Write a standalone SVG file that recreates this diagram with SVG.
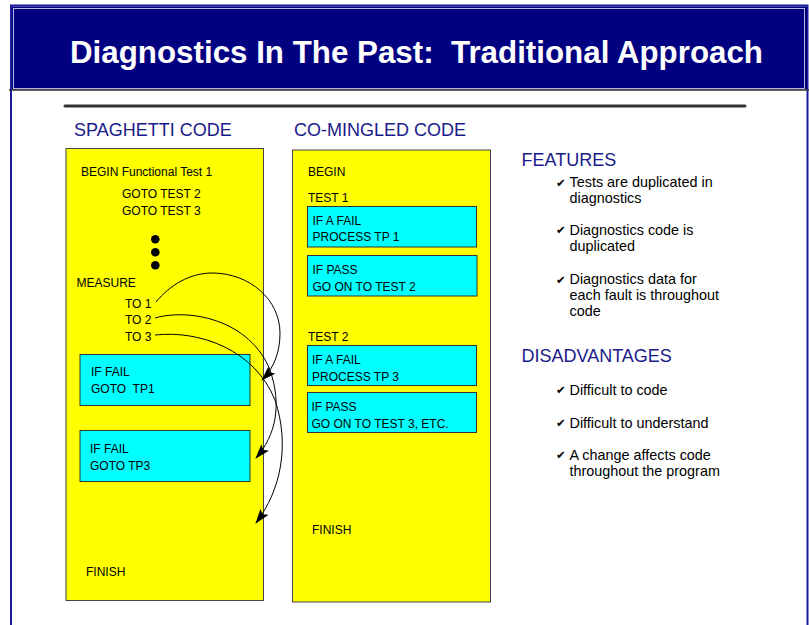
<svg xmlns="http://www.w3.org/2000/svg" width="809" height="625" viewBox="0 0 809 625">
<style>
.t{font-family:"Liberation Sans",Arial,sans-serif;font-size:12px;fill:#000}
.h{font-family:"Liberation Sans",Arial,sans-serif;font-size:18px;fill:#1a1a8a}
.b{font-family:"Liberation Sans",Arial,sans-serif;font-size:14.4px;fill:#000}
.ck{font-family:"DejaVu Sans",sans-serif;font-size:11.5px;fill:#000}
.yel{fill:#ffff00;stroke:#444;stroke-width:1}
.cy{fill:#00ffff;stroke:#333;stroke-width:1}
.arc{fill:none;stroke:#000;stroke-width:1;marker-end:url(#ah)}
</style>
<defs>
<marker id="ah" viewBox="0 0 15 10" refX="14" refY="5" markerWidth="15" markerHeight="10" markerUnits="userSpaceOnUse" orient="auto">
<path d="M0,0 L15,5 L0,10 L3,5 Z" fill="#000"/>
</marker>
</defs>
<rect x="0" y="0" width="809" height="625" fill="#fff"/>
<g id="frame">
<rect x="11" y="5.5" width="796.5" height="640" fill="none" stroke="#1a1a9a" stroke-width="2"/>
<rect x="12" y="6.5" width="795" height="83" fill="#000080"/>
<rect x="13.5" y="8.5" width="791" height="80" fill="none" stroke="#b8b8dc" stroke-width="1"/>
<line x1="9" y1="90" x2="809" y2="90" stroke="#333" stroke-width="1.5"/>
<text x="70" y="63" font-family="'Liberation Sans',Arial,sans-serif" font-size="32" font-weight="bold" fill="#fff" textLength="693" lengthAdjust="spacingAndGlyphs" style="white-space:pre">Diagnostics In The Past:  Traditional Approach</text>
<line x1="65" y1="106" x2="745" y2="106" stroke="#333" stroke-width="3" stroke-linecap="round"/>
</g>
<g id="spaghetti">
<text class="h" x="74" y="136">SPAGHETTI CODE</text>
<rect class="yel" x="66" y="148.5" width="197.5" height="452"/>
<text class="t" x="81" y="176">BEGIN Functional Test 1</text>
<text class="t" x="122" y="198">GOTO TEST 2</text>
<text class="t" x="122" y="215">GOTO TEST 3</text>
<circle cx="155.3" cy="239.3" r="4.3" fill="#000"/>
<circle cx="155.3" cy="252.3" r="4.3" fill="#000"/>
<circle cx="155.3" cy="265.3" r="4.3" fill="#000"/>
<text class="t" x="76.5" y="287">MEASURE</text>
<text class="t" x="125" y="307.5">TO 1</text>
<text class="t" x="125" y="324">TO 2</text>
<text class="t" x="125" y="340.5">TO 3</text>
<text class="t" x="86" y="576">FINISH</text>
</g>
<g id="fail1">
<rect class="cy" x="80" y="354.5" width="170" height="51"/>
<text class="t" x="91" y="376">IF FAIL</text>
<text class="t" x="91" y="393" style="white-space:pre">GOTO  TP1</text>
</g>
<g id="fail3">
<rect class="cy" x="80" y="430.5" width="170" height="51"/>
<text class="t" x="90" y="453">IF FAIL</text>
<text class="t" x="90" y="470">GOTO TP3</text>
</g>
<g id="comingled">
<text class="h" x="294" y="136">CO-MINGLED CODE</text>
<rect class="yel" x="292.5" y="150" width="198" height="452"/>
<text class="t" x="308" y="176">BEGIN</text>
<text class="t" x="308" y="202">TEST 1</text>
<text class="t" x="308" y="341">TEST 2</text>
<text class="t" x="312" y="534">FINISH</text>
</g>
<g id="t1fail">
<rect class="cy" x="307.5" y="206.5" width="169" height="40.5"/>
<text class="t" x="312.5" y="224.5">IF A FAIL</text>
<text class="t" x="312.5" y="241">PROCESS TP 1</text>
</g>
<g id="t1pass">
<rect class="cy" x="307.5" y="255.5" width="169.5" height="40.5"/>
<text class="t" x="312.5" y="273.5">IF PASS</text>
<text class="t" x="312.5" y="290.5">GO ON TO TEST 2</text>
</g>
<g id="t2fail">
<rect class="cy" x="307.5" y="345.5" width="169" height="40"/>
<text class="t" x="312" y="364">IF A FAIL</text>
<text class="t" x="312" y="381">PROCESS TP 3</text>
</g>
<g id="t2pass">
<rect class="cy" x="307.5" y="392.5" width="169" height="40"/>
<text class="t" x="311.5" y="411">IF PASS</text>
<text class="t" x="311.5" y="427.5">GO ON TO TEST 3, ETC.</text>
</g>
<g id="connectors">
<path class="arc" d="M156,302 C170,285 190,273 212,273 C250,273 280,300 280,333 C280,352 274,368 262,380"/>
<path class="arc" d="M155,318 C190,308 250,320 270,370 C282,405 276,435 256,458"/>
<path class="arc" d="M155,335 C200,330 255,350 275,400 C290,445 281,490 256,523"/>
</g>
<g id="features">
<text class="h" x="521.5" y="166">FEATURES</text>
<text class="ck" x="556" y="186.5">✔</text>
<text class="b" x="569.5" y="187">Tests are duplicated in</text>
<text class="b" x="569.5" y="203">diagnostics</text>
<text class="ck" x="556" y="234">✔</text>
<text class="b" x="569.5" y="234.5">Diagnostics code is</text>
<text class="b" x="569.5" y="251">duplicated</text>
<text class="ck" x="556" y="283.5">✔</text>
<text class="b" x="569.5" y="284">Diagnostics data for</text>
<text class="b" x="569.5" y="300">each fault is throughout</text>
<text class="b" x="569.5" y="316">code</text>
</g>
<g id="disadvantages">
<text class="h" x="521.5" y="362">DISADVANTAGES</text>
<text class="ck" x="556" y="394">✔</text>
<text class="b" x="569.5" y="394.5">Difficult to code</text>
<text class="ck" x="556" y="427">✔</text>
<text class="b" x="569.5" y="427.5">Difficult to understand</text>
<text class="ck" x="556" y="459">✔</text>
<text class="b" x="569.5" y="459.5">A change affects code</text>
<text class="b" x="569.5" y="476">throughout the program</text>
</g>
</svg>
